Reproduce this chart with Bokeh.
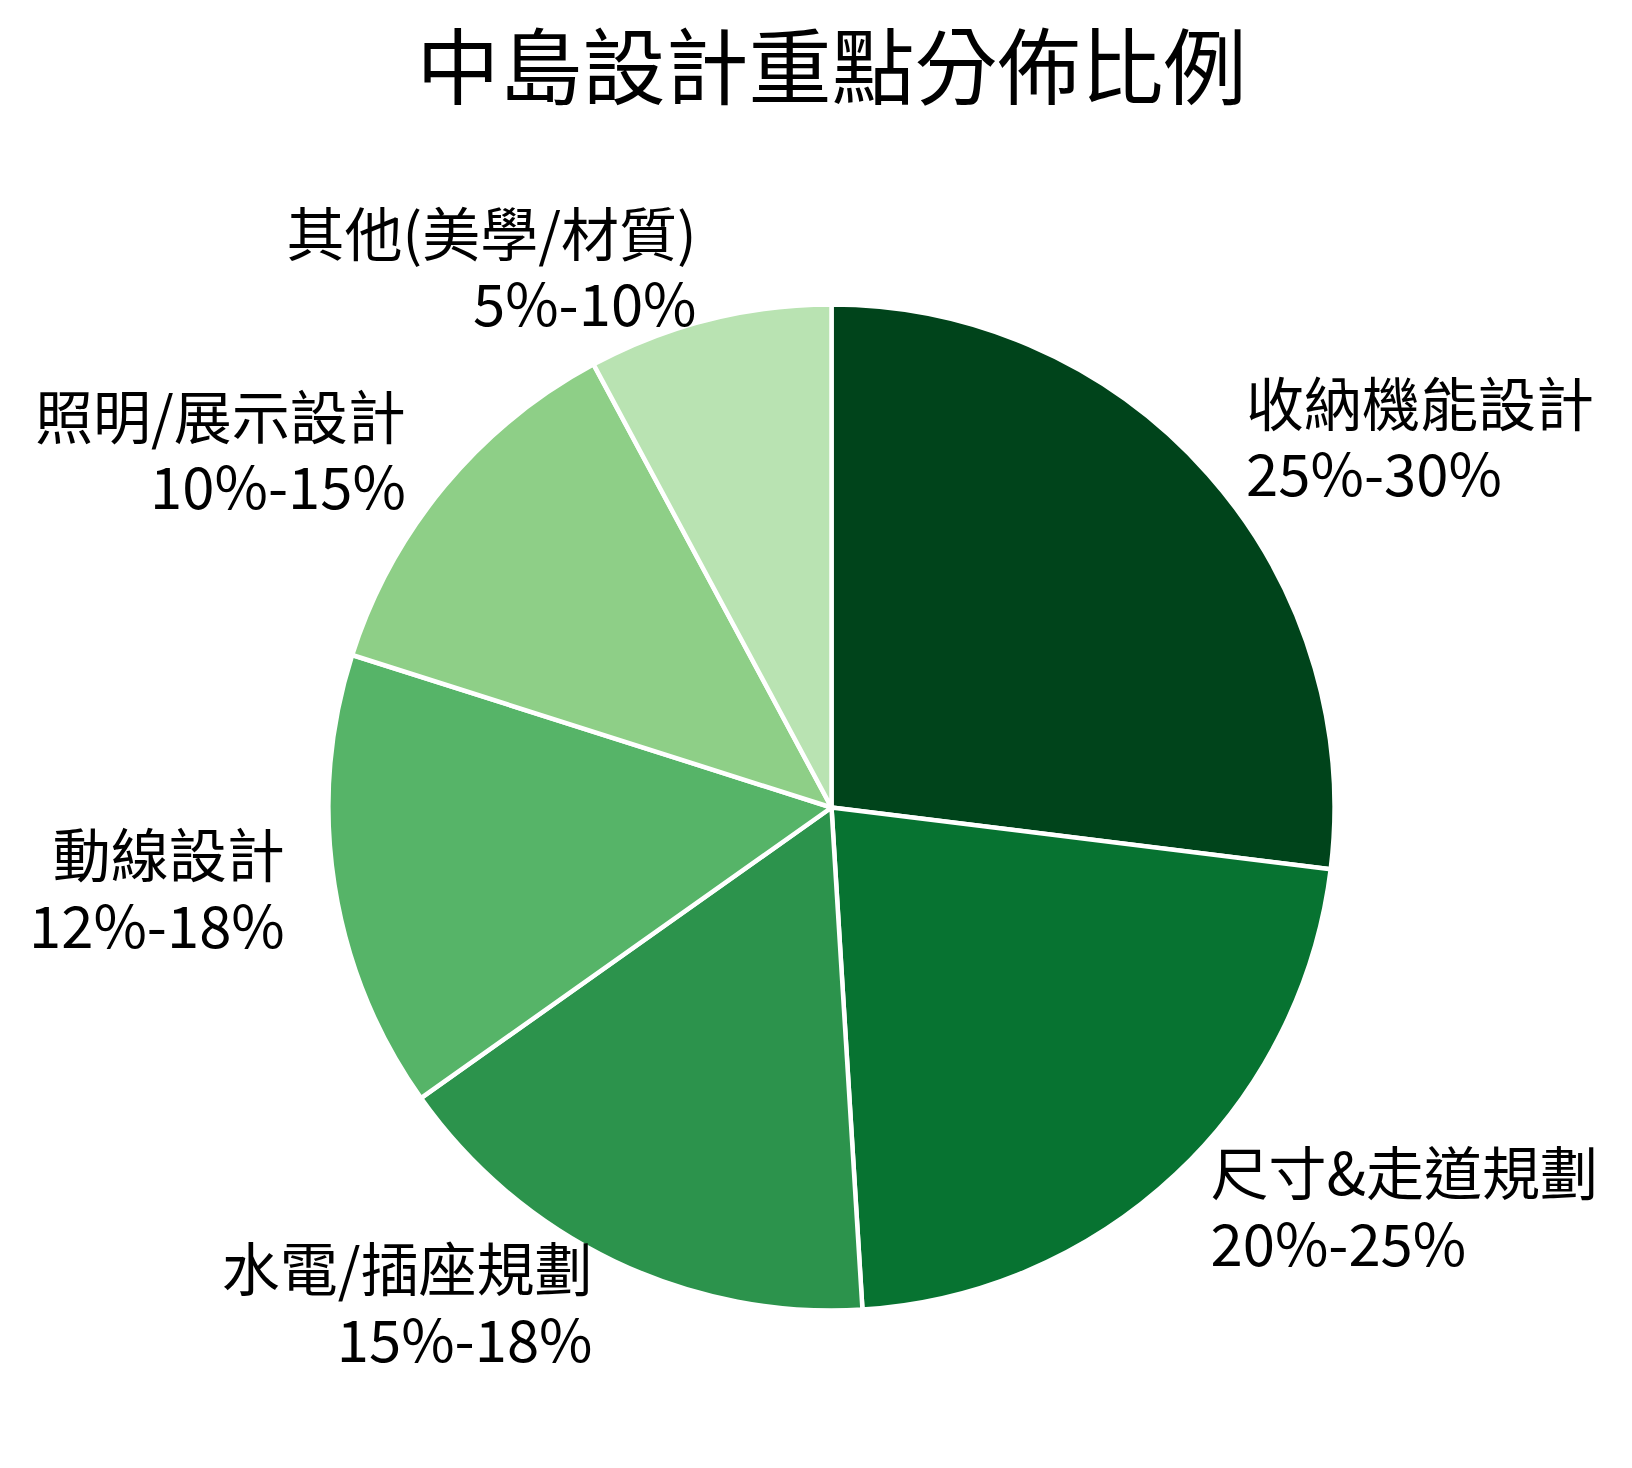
import numpy as np
from bokeh.plotting import figure
from bokeh.models import ColumnDataSource, Range1d
from bokeh.core.properties import value
from bokeh.embed import file_html
from bokeh.resources import INLINE

# data
categories = ['收納機能設計', '尺寸&走道規劃', '水電/插座規劃', '動線設計', '照明/展示設計', '其他(美學/材質)']
ranges = ['25%-30%', '20%-25%', '15%-18%', '12%-18%', '10%-15%', '5%-10%']
shares = [27.5, 22.5, 16.5, 15.0, 12.5, 8.0]
colors = ['#00441b', '#077331', '#2c934c', '#56b468', '#8ecf87', '#b9e3b2']
title = '中島設計重點分佈比例'

FONT = "Noto Sans CJK TC"
W, H = 1616, 1452
R_PX = 503          # pie radius in pixels
CX, CY = 831, 807   # pie centre in plot pixels (from top-left)

# wedge angles, clockwise from 12 o'clock
frac = np.array(shares) / np.sum(shares)
cum = np.concatenate([[0], np.cumsum(frac)])
start = np.pi / 2 - 2 * np.pi * cum[:-1]
end = np.pi / 2 - 2 * np.pi * cum[1:]
mid = (start + end) / 2

lx = 1.1 * np.cos(mid)
ly = 1.1 * np.sin(mid)
align = ['left' if x > 0 else 'right' for x in lx]
labels = [c + '\n' + r for c, r in zip(categories, ranges)]

src = ColumnDataSource(dict(start=start, end=end, color=colors,
                            lx=lx, ly=ly, align=align, label=labels))

p = figure(width=W, height=H, output_backend="svg", toolbar_location=None,
           x_range=Range1d(-CX / R_PX, (W - CX) / R_PX),
           y_range=Range1d(-(H - CY) / R_PX, CY / R_PX),
           min_border=0, outline_line_color=None)
p.axis.visible = False
p.grid.visible = False

p.wedge(x=0, y=0, radius=1, start_angle='start', end_angle='end',
        direction='clock', fill_color='color', line_color='white',
        line_width=4.5, source=src)

p.text(x='lx', y='ly', text='label', text_align='align',
       text_baseline='middle', text_font=value(FONT),
       text_font_size='58px', text_line_height=0.84,
       text_color='black', y_offset=-5, source=src)

p.text(x=[0], y=[(CY - 61) / R_PX], text=[title], text_align='center',
       text_baseline='middle', text_font=value(FONT),
       text_font_size='83px', text_color='black')

open("out.html", "w").write(file_html(p, INLINE))
